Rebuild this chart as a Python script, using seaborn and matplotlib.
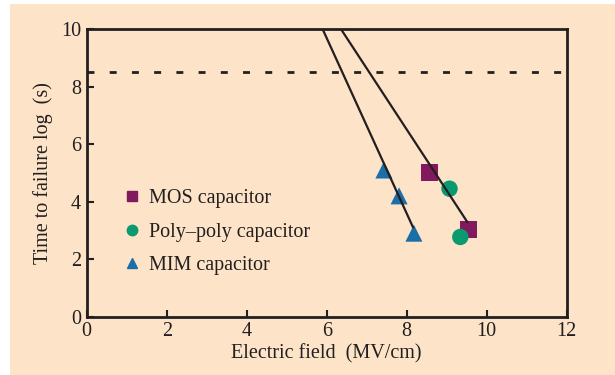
import matplotlib
matplotlib.use("Agg")
import matplotlib.pyplot as plt
import seaborn as sns
import pandas as pd
from matplotlib.patches import Rectangle
from matplotlib.lines import Line2D

# ---- data ----
mos_field = [8.58, 9.54]
mos_ttf = [5.0, 3.02]
poly_field = [9.07, 9.34]
poly_ttf = [4.45, 2.77]
mim_field = [7.43, 7.81, 8.18]
mim_ttf = [5.1, 4.2, 2.9]
fit_mim_x = [5.90, 8.16]
fit_mim_y = [10.0, 3.10]
fit_mos_x = [6.36, 9.52]
fit_mos_y = [10.0, 3.28]
target_level = 8.52
series_names = ["MOS capacitor", "Poly\u2013poly capacitor", "MIM capacitor"]
x_ticks = [0, 2, 4, 6, 8, 10, 12]
y_ticks = [0, 2, 4, 6, 8, 10]

colors = {"MOS capacitor": "#82185e", "Poly\u2013poly capacitor": "#0b9a70", "MIM capacitor": "#1a6fa8"}
markers = {"MOS capacitor": "s", "Poly\u2013poly capacitor": "o", "MIM capacitor": "^"}
sizes = {"MOS capacitor": 150, "Poly\u2013poly capacitor": 140, "MIM capacitor": 150}

df = pd.DataFrame({
    "field": mos_field + poly_field + mim_field,
    "ttf": mos_ttf + poly_ttf + mim_ttf,
    "type": [series_names[0]] * len(mos_field) + [series_names[1]] * len(poly_field) + [series_names[2]] * len(mim_field),
})

sns.set_style("ticks")
plt.rcParams["font.family"] = ["Liberation Serif", "DejaVu Serif"]
plt.rcParams["font.size"] = 14.5

bg = "#fde3c7"
fig = plt.figure(figsize=(6.15, 3.75), dpi=100)
fig.patch.set_facecolor("white")
fig.patches.append(Rectangle((10 / 615, 0), 1 - 10 / 615, 1 - 4 / 375, transform=fig.transFigure,
                             facecolor=bg, edgecolor="none", zorder=-10))
ax = fig.add_axes([86.7 / 615, 1 - 316.5 / 375, (566.7 - 86.7) / 615, (316.5 - 29.3) / 375])
ax.set_facecolor(bg)

for name in series_names:
    sub = df[df["type"] == name]
    sns.scatterplot(data=sub, x="field", y="ttf", color=colors[name], marker=markers[name],
                    s=sizes[name], edgecolor="none", ax=ax, legend=False, zorder=3)

sns.lineplot(x=fit_mim_x, y=fit_mim_y, color="#231f20", lw=1.6, ax=ax, zorder=4)
sns.lineplot(x=fit_mos_x, y=fit_mos_y, color="#231f20", lw=1.6, ax=ax, zorder=4)
ax.axhline(target_level, color="#231f20", lw=2.0, ls=(0, (2.5, 5.5)), zorder=2)

ax.set_xlim(0, 12)
ax.set_ylim(0, 10)
ax.set_xticks(x_ticks)
ax.set_yticks(y_ticks)
ax.set_xticklabels([str(t) for t in x_ticks])
ax.set_yticklabels([str(t) for t in y_ticks])
ax.tick_params(direction="in", length=5, width=1.5, colors="#231f20", labelsize=14.5, pad=4)
for sp in ax.spines.values():
    sp.set_linewidth(2.0)
    sp.set_color("#231f20")
ax.set_xlabel("Electric field  (MV/cm)", fontsize=14.5, color="#231f20", labelpad=2)
ax.set_ylabel("Time to failure log  (s)", fontsize=14.5, color="#231f20", labelpad=6)

handles = [Line2D([], [], ls="none", marker=markers[n], color=colors[n], markersize=7.5) for n in series_names]
leg = ax.legend(handles, series_names, loc="lower left", bbox_to_anchor=(0.04, 0.082), frameon=False,
                fontsize=14.5, handlelength=0.8, handletextpad=0.45, labelspacing=0.7)
for t in leg.get_texts():
    t.set_color("#231f20")

fig.savefig("out.png", dpi=100, facecolor=fig.get_facecolor())
